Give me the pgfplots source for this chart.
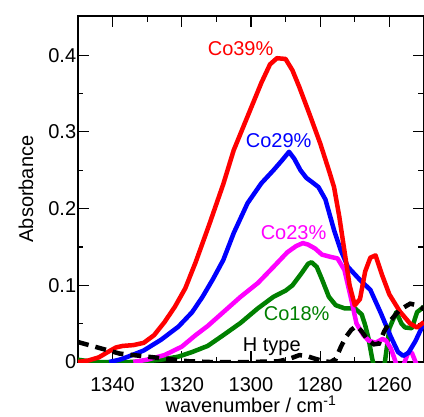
\documentclass[border=0pt]{standalone}
\usepackage{fontspec}
\setmainfont{Liberation Sans}
\usepackage{pgfplots}
\pgfplotsset{compat=1.18}
\definecolor{cogreen}{RGB}{0,128,0}
\definecolor{comag}{RGB}{255,0,255}
\definecolor{cored}{RGB}{255,0,0}
\definecolor{coblue}{RGB}{0,0,255}
\begin{document}
\fontsize{20}{24}\selectfont
\begin{tikzpicture}
\useasboundingbox (0,0) rectangle (424pt,416pt);
\begin{axis}[
    at={(78pt,54pt)}, anchor=south west,
    scale only axis, width=346pt, height=346pt,
    font=\fontsize{20}{24}\selectfont,
    x dir=reverse,
    xmin=1250, xmax=1350, ymin=0, ymax=0.451,
    xtick={1260,1280,1300,1320,1340}, minor x tick num=1,
    ytick={0,0.1,0.2,0.3,0.4}, minor y tick num=1,
    tick align=inside, major tick length=11pt, minor tick length=5.5pt,
    axis line style={line width=1.2pt},
    every tick/.style={black, line width=1.2pt},
    xlabel={wavenumber / cm\textsuperscript{-1}},
    ylabel={Absorbance},
    xlabel style={at={(axis description cs:0.5,-0.147)}, anchor=base},
    ylabel style={at={(axis description cs:-0.130,0.5)}, anchor=base},
    xticklabel style={anchor=base, yshift=-29pt},
    yticklabel style={xshift=5pt},
    /pgf/number format/assume math mode=true,
    /pgf/number format/1000 sep={},
]
% Co18%
\addplot[cogreen, line width=4.5pt, line join=round] coordinates {
(1350,0.003)(1347,0.001)(1344,0.000)(1335,0.000)(1330,0.001)(1326,0.003)
(1321,0.007)(1317,0.013)(1312.5,0.021)(1308,0.035)(1303,0.051)(1298,0.070)
(1293.5,0.085)(1290,0.093)(1288,0.100)(1285.5,0.115)(1283.5,0.128)(1282.5,0.130)
(1281,0.124)(1279.5,0.108)(1277.5,0.085)(1275.5,0.074)(1273,0.070)(1270,0.070)
(1268,0.062)(1267,0.048)(1266,0.030)(1265,0.005)(1264,-0.015)(1262,-0.015)
(1261.3,0.000)(1260,0.044)(1258,0.065)(1256.5,0.050)(1255.5,0.045)(1253.5,0.044)
(1252,0.065)(1250,0.072)
};
% Co23%
\addplot[comag, line width=4.5pt, line join=round] coordinates {
(1334,0.000)(1330,0.003)(1325,0.009)(1320,0.020)(1316,0.035)(1312.5,0.047)
(1308,0.065)(1303,0.085)(1298,0.103)(1293.5,0.124)(1289.5,0.143)(1287,0.151)
(1285,0.155)(1283.5,0.153)(1281.5,0.148)(1279.5,0.140)(1277,0.137)(1275,0.135)
(1273,0.120)(1271.2,0.085)(1269.5,0.050)(1267.5,0.035)(1266,0.028)(1264,0.025)
(1262,0.030)(1261,0.028)(1259.6,0.018)(1258.5,0.004)(1257.5,-0.010)(1256,-0.005)
(1254.5,0.013)(1253.5,0.012)(1252,-0.005)(1250,-0.020)
};
% Co29%
\addplot[coblue, line width=4.5pt, line join=round] coordinates {
(1341,0.000)(1338,0.003)(1335.5,0.007)(1331,0.015)(1326,0.029)(1321,0.046)
(1317,0.065)(1314,0.085)(1311,0.108)(1308,0.133)(1305,0.168)(1301,0.207)
(1297,0.233)(1293.5,0.250)(1291,0.263)(1289,0.274)(1287.5,0.265)(1285.7,0.250)
(1284,0.240)(1282.5,0.235)(1280.5,0.228)(1278.5,0.212)(1276,0.172)(1274,0.145)
(1272,0.124)(1268.5,0.107)(1265.5,0.094)(1262.5,0.064)(1259.6,0.033)(1257.5,0.013)
(1256,0.008)(1254.5,0.012)(1252.5,0.027)(1250,0.051)
};
% Co39%
\addplot[cored, line width=4.5pt, line join=round] coordinates {
(1350,0.000)(1347,0.002)(1344,0.006)(1341,0.014)(1339,0.019)(1337,0.021)
(1334,0.022)(1331,0.025)(1328,0.035)(1325,0.052)(1322,0.072)(1319,0.096)
(1316,0.130)(1312,0.180)(1308,0.232)(1305,0.276)(1301,0.320)(1297,0.364)
(1294.5,0.388)(1292.5,0.396)(1290,0.395)(1288,0.380)(1286,0.358)(1283,0.322)
(1280,0.285)(1277.5,0.250)(1276,0.228)(1274.5,0.190)(1273,0.145)(1271.5,0.100)
(1270,0.074)(1268.5,0.082)(1267,0.118)(1265.5,0.136)(1264,0.139)(1262,0.112)
(1260,0.088)(1257,0.066)(1254,0.050)(1252,0.045)(1250,0.052)
};
% H type
\addplot[black, line width=4.5pt, dash pattern=on 11pt off 7pt] coordinates {
(1350,0.026)(1346,0.021)(1342,0.016)(1338,0.011)(1334,0.009)(1330,0.007)
(1326,0.005)(1322,0.003)(1318,0.001)(1312,0.000)(1300,0.000)(1292,0.001)
(1289,0.004)(1286,0.009)(1284,0.008)(1282,0.005)(1279,0.001)(1277,0.000)
(1275.5,0.004)(1274,0.020)(1272.5,0.033)(1271,0.042)(1269.5,0.047)(1268,0.040)
(1266.5,0.030)(1264.5,0.023)(1263,0.024)(1261.5,0.040)(1259.5,0.055)(1257,0.068)
(1254,0.076)(1252,0.074)(1250,0.069)
};
\node[cored] at (axis cs:1303,0.409) {Co39\%};
\node[coblue] at (axis cs:1292,0.289) {Co29\%};
\node[comag] at (axis cs:1287.7,0.169) {Co23\%};
\node[cogreen] at (axis cs:1286.8,0.063) {Co18\%};
\node[black] at (axis cs:1294,0.020) {H type};
\end{axis}
\end{tikzpicture}
\end{document}
